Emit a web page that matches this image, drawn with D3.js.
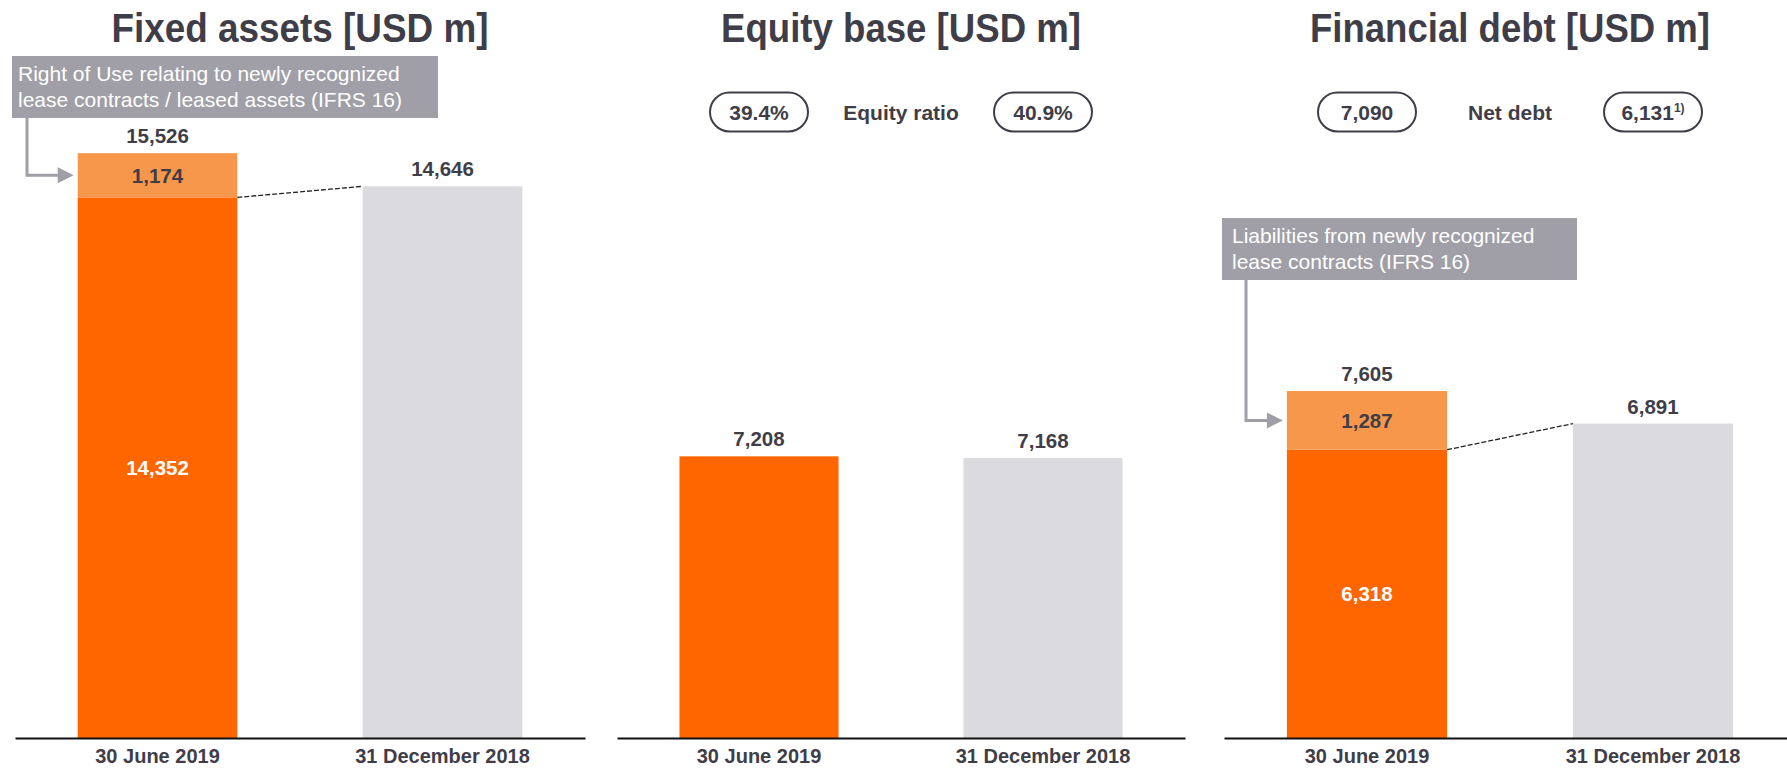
<!DOCTYPE html>
<html>
<head>
<meta charset="utf-8">
<script src="https://cdn.jsdelivr.net/npm/d3@7"></script>
<style>
  body { margin: 0; background: #fff; }
  svg text { font-family: "Liberation Sans", Arial, sans-serif; }
</style>
</head>
<body>
<svg id="chart" width="1787" height="769"></svg>
<script>
// data
var periods = ["30 June 2019", "31 December 2018"];

var fixedBase = [14352, 14646];
var fixedIfrs = [1174, 0];

var equityBase = [7208, 7168];
var equityIfrs = [0, 0];

var debtBase = [6318, 6891];
var debtIfrs = [1287, 0];

var equityRatio = ["39.4%", "40.9%"];
var netDebt = ["7,090", "6,131"];

var titles = ["Fixed assets [USD m]", "Equity base [USD m]", "Financial debt [USD m]"];
var noteFixed = ["Right of Use relating to newly recognized", "lease contracts / leased assets (IFRS 16)"];
var noteDebt = ["Liabilities from newly recognized", "lease contracts (IFRS 16)"];

var colMain = "#ff6600", colIfrs = "#f6974b", colPrev = "#dadadf";
var colText = "#3f3e48", colNote = "#a09fa7";

var svg = d3.select("#chart");
var baseY = 738;

function fmt(v) { return d3.format(",")(v); }

function drawPanel(cfg) {
	var g = svg.append("g");

	var x = d3.scaleBand().domain(periods).range(cfg.range)
		.paddingInner(0.44).paddingOuter(0.22);
	var y = d3.scaleLinear().domain([0, cfg.yMax]).range([baseY, 60]);
	var cx = (cfg.range[0] + cfg.range[1]) / 2;

	g.append("text")
		.attr("x", cx).attr("y", 42)
		.attr("text-anchor", "middle")
		.attr("font-size", "40px").attr("font-weight", "bold")
		.attr("fill", colText)
		.attr("textLength", cfg.titleW)
		.attr("lengthAdjust", "spacingAndGlyphs")
		.text(cfg.title);

	// base bars
	g.selectAll(".base")
		.data(periods)
		.enter()
		.append("rect")
		.attr("x", function(d) { return x(d); })
		.attr("width", x.bandwidth())
		.attr("y", function(d, i) { return y(cfg.base[i]); })
		.attr("height", function(d, i) { return baseY - y(cfg.base[i]); })
		.attr("fill", function(d, i) { return i == 0 ? colMain : colPrev; });

	// IFRS 16 part on top
	g.selectAll(".ifrs")
		.data(periods.filter(function(d, i) { return cfg.ifrs[i] > 0; }))
		.enter()
		.append("rect")
		.attr("x", function(d) { return x(d); })
		.attr("width", x.bandwidth())
		.attr("y", function(d) { var i = periods.indexOf(d); return y(cfg.base[i] + cfg.ifrs[i]); })
		.attr("height", function(d) { var i = periods.indexOf(d); return y(cfg.base[i]) - y(cfg.base[i] + cfg.ifrs[i]); })
		.attr("fill", colIfrs);

	// totals above bars
	g.selectAll(".total")
		.data(periods)
		.enter()
		.append("text")
		.attr("x", function(d) { return x(d) + x.bandwidth() / 2; })
		.attr("y", function(d, i) { return y(cfg.base[i] + cfg.ifrs[i]) - 10; })
		.attr("text-anchor", "middle")
		.attr("font-size", "20.5px").attr("font-weight", "bold")
		.attr("fill", colText)
		.text(function(d, i) { return fmt(cfg.base[i] + cfg.ifrs[i]); });

	if (cfg.ifrs[0] > 0) {
		var x0 = x(periods[0]), w = x.bandwidth();
		// segment labels
		g.append("text")
			.attr("x", x0 + w / 2)
			.attr("y", (y(cfg.base[0]) + y(cfg.base[0] + cfg.ifrs[0])) / 2)
			.attr("dy", "0.36em")
			.attr("text-anchor", "middle")
			.attr("font-size", "20.5px").attr("font-weight", "bold")
			.attr("fill", colText)
			.text(fmt(cfg.ifrs[0]));
		g.append("text")
			.attr("x", x0 + w / 2)
			.attr("y", (y(cfg.base[0]) + baseY) / 2)
			.attr("dy", "0.36em")
			.attr("text-anchor", "middle")
			.attr("font-size", "20.5px").attr("font-weight", "bold")
			.attr("fill", "#fff")
			.text(fmt(cfg.base[0]));

		// dashed connector
		g.append("line")
			.attr("x1", x0 + w).attr("y1", y(cfg.base[0]))
			.attr("x2", x(periods[1])).attr("y2", y(cfg.base[1] + cfg.ifrs[1]))
			.attr("stroke", "#222").attr("stroke-width", 1.3)
			.attr("stroke-dasharray", "5,2");

		// note box + arrow
		var n = cfg.note;
		g.append("rect")
			.attr("x", n.x).attr("y", n.y)
			.attr("width", n.w).attr("height", n.h)
			.attr("fill", colNote);
		g.selectAll(".note")
			.data(n.lines)
			.enter()
			.append("text")
			.attr("x", n.x + n.pad)
			.attr("y", function(d, i) { return n.y + 24.5 + i * 26.5; })
			.attr("font-size", "21px")
			.attr("fill", "#fff")
			.text(function(d) { return d; });

		var ay = (y(cfg.base[0]) + y(cfg.base[0] + cfg.ifrs[0])) / 2;
		g.append("path")
			.attr("d", "M" + n.ax + "," + (n.y + n.h) + "V" + ay + "H" + (x0 - 18))
			.attr("fill", "none")
			.attr("stroke", colNote).attr("stroke-width", 3);
		g.append("path")
			.attr("d", "M" + (x0 - 20) + "," + (ay - 8) + "L" + (x0 - 4) + "," + ay + "L" + (x0 - 20) + "," + (ay + 8) + "Z")
			.attr("fill", colNote);
	}

	// pills above
	if (cfg.pills) {
		var p = g.selectAll(".pill")
			.data(periods)
			.enter()
			.append("g")
			.attr("transform", function(d) { return "translate(" + (x(d) + x.bandwidth() / 2) + ",112)"; });
		p.append("rect")
			.attr("x", -49).attr("y", -19.5)
			.attr("width", 98).attr("height", 39)
			.attr("rx", 19.5)
			.attr("fill", "none")
			.attr("stroke", colText).attr("stroke-width", 2);
		var pt = p.append("text")
			.attr("y", 7.5)
			.attr("text-anchor", "middle")
			.attr("font-size", "21px").attr("font-weight", "bold")
			.attr("fill", colText)
			.text(function(d, i) { return cfg.pills[i]; });
		if (cfg.pillNote) {
			pt.filter(function(d, i) { return i == 1; })
				.append("tspan")
				.attr("font-size", "12px")
				.attr("dy", "-8")
				.text(cfg.pillNote);
		}
		g.append("text")
			.attr("x", cx).attr("y", 119.5)
			.attr("text-anchor", "middle")
			.attr("font-size", "21px").attr("font-weight", "bold")
			.attr("fill", colText)
			.text(cfg.pillLabel);
	}

	// axis
	var ax = g.append("g")
		.attr("transform", "translate(0," + baseY + ")")
		.call(d3.axisBottom(x).tickSize(0).tickPadding(11).tickSizeOuter(0));
	ax.select(".domain").attr("stroke", "#111").attr("stroke-width", 2);
	ax.selectAll(".tick text")
		.attr("font-size", "20px").attr("font-weight", "bold")
		.attr("font-family", "Liberation Sans, Arial, sans-serif")
		.attr("fill", colText);
}

drawPanel({
	title: titles[0], titleW: 377, range: [15, 585], yMax: 18000,
	base: fixedBase, ifrs: fixedIfrs,
	note: { x: 12, y: 56, w: 426, h: 62, ax: 27, pad: 6, lines: noteFixed }
});

drawPanel({
	title: titles[1], titleW: 360, range: [617, 1185], yMax: 17350,
	base: equityBase, ifrs: equityIfrs,
	pills: equityRatio, pillLabel: "Equity ratio"
});

drawPanel({
	title: titles[2], titleW: 400, range: [1224, 1796], yMax: 14860,
	base: debtBase, ifrs: debtIfrs,
	pills: netDebt, pillLabel: "Net debt", pillNote: "1)",
	note: { x: 1222, y: 218, w: 355, h: 62, ax: 1246, pad: 10, lines: noteDebt }
});
</script>
</body>
</html>
